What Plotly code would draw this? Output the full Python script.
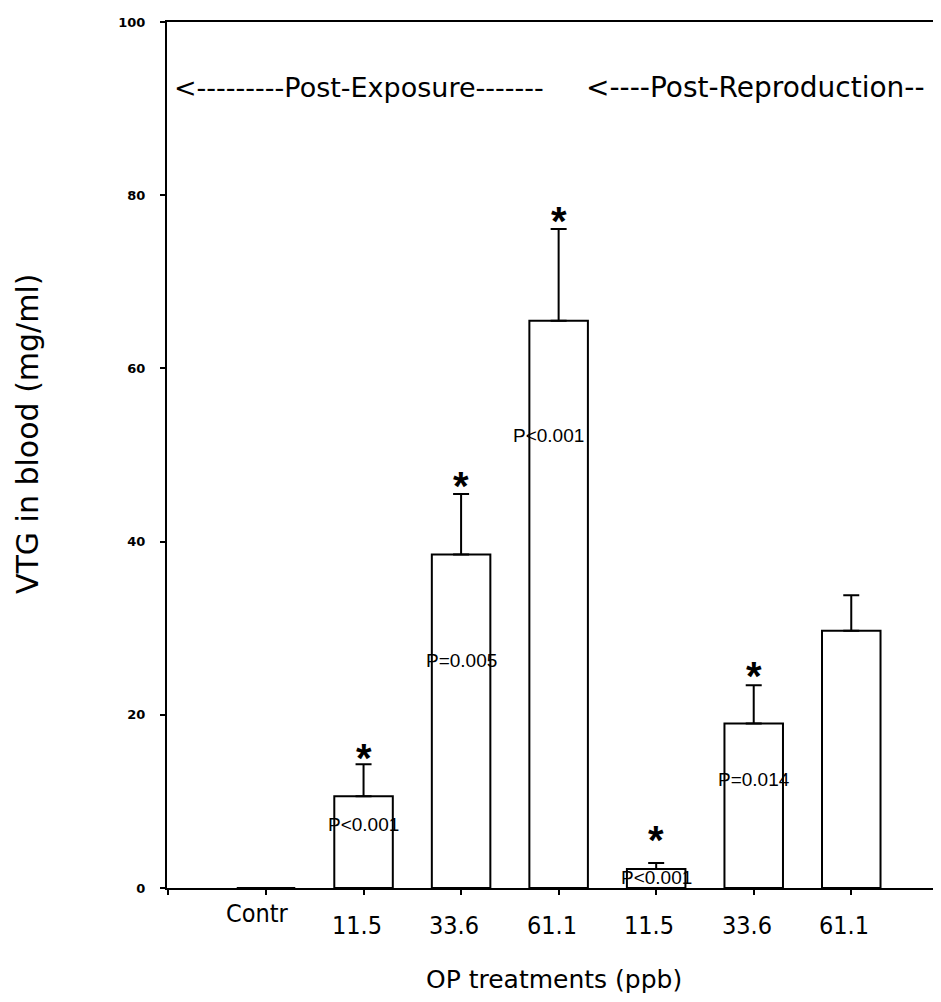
import plotly.graph_objects as go

categories = ["Contr", "11.5", "33.6", "61.1", "11.5", "33.6", "61.1"]
means = [0.0, 10.6, 38.5, 65.5, 2.2, 19.0, 29.7]
errors = [0.0, 3.7, 7.0, 10.6, 0.7, 4.4, 4.1]
p_labels = ["", "P<0.001", "P=0.005", "P<0.001", "P<0.001", "P=0.014", ""]
p_label_y = [None, 7.3, 26.3, 52.3, 1.2, 12.5, None]
star_y = [None, 15.9, 47.3, 77.9, 6.5, 25.4, None]
section_labels = ["<---------Post-Exposure-------", "<----Post-Reproduction--"]
y_ticks = [0, 20, 40, 60, 80, 100]

FONT = "Liberation Sans, Arial, sans-serif"
NARROW = "Liberation Sans Narrow, DejaVu Sans Condensed, Liberation Sans, sans-serif"
WIDE = "DejaVu Sans, Verdana, sans-serif"
xpos = list(range(len(categories)))

fig = go.Figure()
fig.add_trace(go.Bar(
    x=xpos, y=means, width=0.6,
    marker=dict(color="white", line=dict(color="black", width=2)),
    error_y=dict(type="data", array=errors, arrayminus=[0] * len(errors),
                 symmetric=False, color="black", thickness=2, width=8),
    showlegend=False,
))

ann = []
for i, c in enumerate(categories):
    ann.append(dict(x=i - (0.09 if i == 0 else 0.07), y=0, xref="x", yref="y",
                    text=c, showarrow=False,
                    yshift=-(25 if i == 0 else 37),
                    font=dict(family=NARROW, size=25, color="black")))
for i, t in enumerate(p_labels):
    if t:
        ann.append(dict(x=i - (0.1 if i == 3 else 0), y=p_label_y[i],
                        xref="x", yref="y", text=t, showarrow=False,
                        font=dict(family=FONT, size=19, color="black")))
for i, s in enumerate(star_y):
    if s is not None:
        ann.append(dict(x=i, y=s, xref="x", yref="y", text="<b>*</b>",
                        showarrow=False, yshift=-8,
                        font=dict(family=FONT, size=40, color="black")))
ann.append(dict(x=-0.96, y=92.4, xref="x", yref="y", text=section_labels[0],
                showarrow=False, xanchor="left",
                font=dict(family=WIDE, size=27, color="black")))
ann.append(dict(x=3.26, y=92.4, xref="x", yref="y", text=section_labels[1],
                showarrow=False, xanchor="left",
                font=dict(family=WIDE, size=28, color="black")))
ann.append(dict(x=0.5, y=-0.106, xref="paper", yref="paper",
                text="OP treatments (ppb)", showarrow=False, yanchor="middle",
                font=dict(family=WIDE, size=25, color="black")))
ann.append(dict(x=-0.18, y=0.525, xref="paper", yref="paper",
                text="VTG in blood (mg/ml)", showarrow=False, textangle=-90,
                xanchor="center", yanchor="middle",
                font=dict(family=WIDE, size=30, color="black")))

fig.update_layout(
    width=933, height=986,
    margin=dict(l=159, r=0, t=14, b=106),
    paper_bgcolor="white", plot_bgcolor="white",
    annotations=ann,
    xaxis=dict(range=[-1.015, 6.92], tickvals=list(range(-1, 7)),
               ticktext=[""] * 8, ticks="outside", ticklen=5, tickwidth=2,
               tickcolor="black", showline=True, linecolor="black",
               linewidth=2, mirror=True, showgrid=False, zeroline=False),
    yaxis=dict(range=[0, 100], tickvals=y_ticks,
               ticktext=[f"<b>{v}</b>" for v in y_ticks],
               ticks="outside", ticklen=5, tickwidth=2, tickcolor="black",
               showline=True, linecolor="black", linewidth=2,
               showgrid=False, zeroline=False, ticklabelstandoff=12,
               tickfont=dict(family=WIDE, size=13, color="black")),
)

fig.write_html("out.html")
